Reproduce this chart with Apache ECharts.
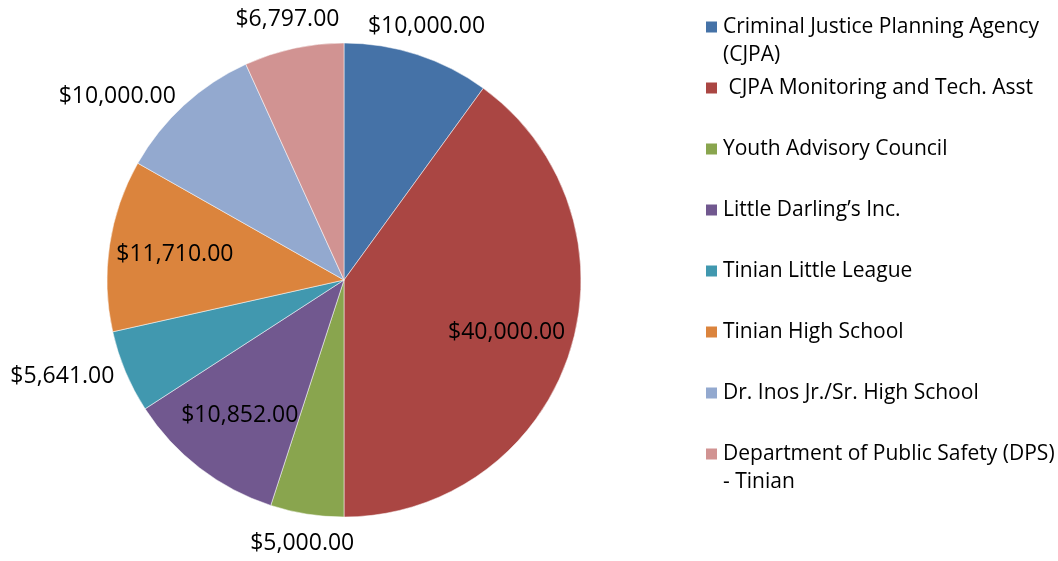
<!DOCTYPE html>
<html>
<head>
<meta charset="utf-8">
<script src="https://cdn.jsdelivr.net/npm/echarts@6/dist/echarts.min.js"></script>
<style>
  html, body { margin: 0; padding: 0; background: #fff; }
  #chart { width: 1058px; height: 561px; }
</style>
</head>
<body>
<div id="chart"></div>
<script>
  // 资金分配
  const categories = [
    'Criminal Justice Planning Agency\n(CJPA)',
    ' CJPA Monitoring and Tech. Asst',
    'Youth Advisory Council',
    'Little Darling\u2019s Inc.',
    'Tinian Little League',
    'Tinian High School',
    'Dr. Inos Jr./Sr. High School',
    'Department of Public Safety (DPS)\n- Tinian'
  ]
  const amounts = [10000, 40000, 5000, 10852, 5641, 11710, 10000, 6797]
  const colors = ['#4572A7', '#AA4643', '#89A54E', '#71588F', '#4198AF', '#DB843D', '#93A9CF', '#D19392']
  // where each value label sits: in the slice, just outside, beside the slice
  const labelRing = ['near', 'in', 'near', 'in', 'far', 'in', 'far', 'near']

  const FONT = '"Open Sans", "Liberation Sans", sans-serif'
  const CENTER = [344, 280]
  const R = 237

  const money = v => '$' + v.toLocaleString('en-US', { minimumFractionDigits: 2, maximumFractionDigits: 2 })

  const labelStyle = {
    formatter: p => money(p.value),
    color: '#000',
    fontFamily: FONT,
    fontSize: 23
  }

  let chart = echarts.init(document.getElementById('chart'))

  // main slices, the side labels sit outside them
  let mainData = categories.map((name, i) => ({
    name: name,
    value: amounts[i],
    itemStyle: { color: colors[i] },
    label: Object.assign({ show: labelRing[i] === 'far' }, labelStyle)
  }))

  // label only rings, same values so the angles follow the slices
  let labelSeries = (ring, radius) => ({
    type: 'pie',
    silent: true,
    center: CENTER,
    radius: radius,
    startAngle: 90,
    clockwise: true,
    legendHoverLink: false,
    itemStyle: { color: 'transparent', borderWidth: 0 },
    emphasis: { disabled: true },
    labelLine: { show: false },
    data: categories.map((name, i) => ({
      name: name,
      value: amounts[i],
      label: Object.assign({ show: labelRing[i] === ring, position: 'inside' }, labelStyle)
    }))
  })

  let legends = categories.map((name, i) => {
    let twoLines = name.indexOf('\n') >= 0
    let iconY = 27 + 61 * i
    return {
      orient: 'vertical',
      left: 704,
      top: iconY - (twoLines ? 42 : 14),
      padding: 0,
      itemWidth: 13,
      itemHeight: 13,
      icon: 'rect',
      selectedMode: false,
      data: [name],
      // blank first line keeps the marker level with the first text line
      formatter: n => (n.indexOf('\n') >= 0 ? ' \n' + n : n),
      textStyle: {
        fontFamily: FONT,
        fontSize: 21,
        lineHeight: 28,
        color: '#000'
      }
    }
  })

  let option = {
    backgroundColor: '#fff',
    animation: false,
    legend: legends,
    series: [
      {
        type: 'pie',
        center: CENTER,
        radius: R,
        startAngle: 90,
        clockwise: true,
        avoidLabelOverlap: false,
        label: { position: 'outside', distanceToLabelLine: 0 },
        labelLine: { show: false, length: 12, length2: 0 },
        itemStyle: { borderColor: '#fff', borderWidth: 0.5 },
        emphasis: { scale: false },
        data: mainData
      },
      labelSeries('in', [100, 236]),
      labelSeries('near', [237, 291])
    ]
  }
  chart.setOption(option)
</script>
</body>
</html>
